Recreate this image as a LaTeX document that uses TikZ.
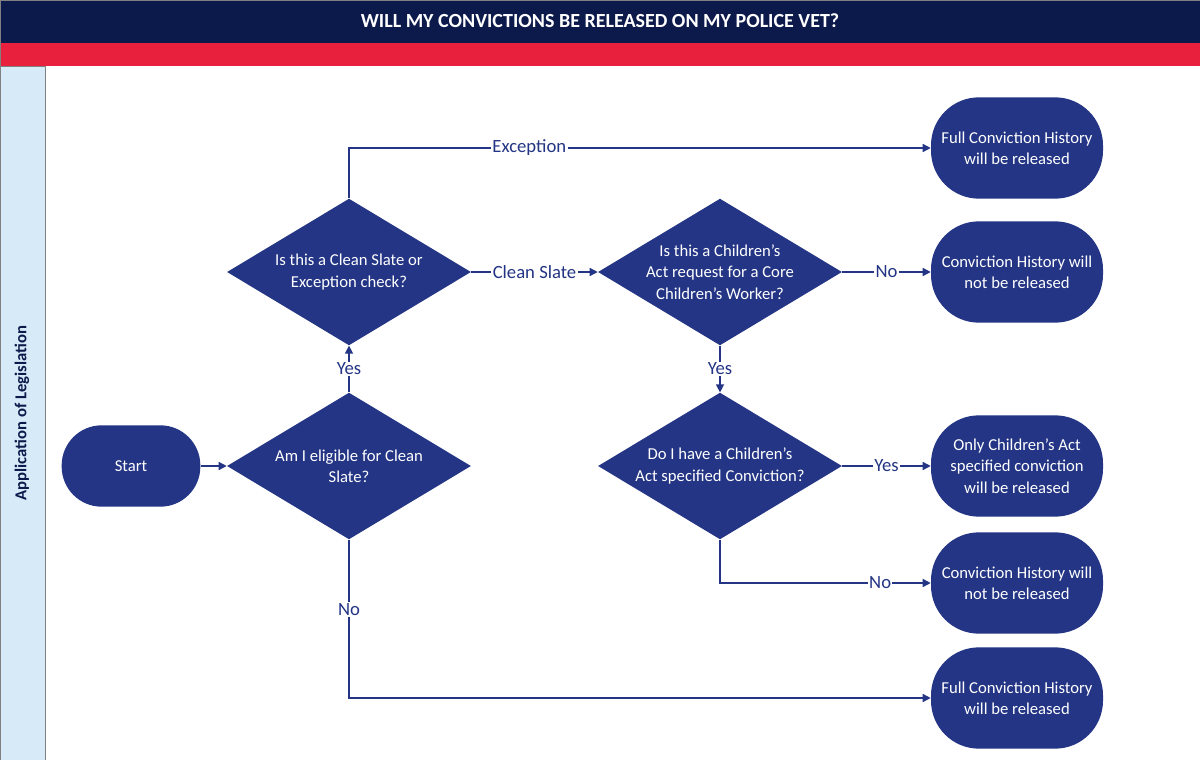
\documentclass[tikz,border=0pt]{standalone}
\usepackage{fontspec}
\setmainfont{Carlito}
\usetikzlibrary{shapes.geometric,arrows.meta,positioning}
\definecolor{navy}{HTML}{0C1A4B}
\definecolor{boxblue}{HTML}{233584}
\definecolor{barred}{HTML}{E8203E}
\definecolor{lane}{HTML}{D6EAF8}
\tikzset{
  flow/.style={draw=boxblue, line width=1pt, -{Triangle[length=6pt,width=6pt]}},
  ending/.style={rectangle, rounded corners=36pt, fill=boxblue, text=white, minimum width=129pt, minimum height=76pt, inner xsep=0pt, align=center, font=\fontsize{12.5}{16}\selectfont},
  choice/.style={diamond, fill=boxblue, minimum width=183pt, minimum height=110pt, inner sep=0pt},
  choicetext/.style={text=white, align=center, font=\fontsize{12.5}{16}\selectfont},
  tag/.style={fill=white, text=boxblue, inner sep=1pt, font=\fontsize{14}{16}\selectfont}
}
\begin{document}
\begin{tikzpicture}[x=0.75pt, y=-0.75pt]
  \useasboundingbox (0,0) rectangle (1200,760);
  % frame and bars
  \fill[navy] (0,0) rectangle (1200,43);
  \fill[barred] (0,43) rectangle (1200,66);
  \node[text=white, font=\bfseries\fontsize{15}{17}\selectfont] (title) at (600,21) {WILL MY CONVICTIONS BE RELEASED ON MY POLICE VET?};
  \draw[fill=lane, draw=gray] (0,66) rectangle (45,760);
  \draw[gray] (0,0) rectangle (1200,760);
  \node[rotate=90, text=navy, font=\bfseries\fontsize{12.5}{14}\selectfont] (lanelabel) at (22,413) {Application of Legislation};
  % nodes
  \node[ending, minimum width=104pt, minimum height=61pt, rounded corners=30pt] (start) at (131,466) {Start};
  \node[choice] (eligible) at (349,466) {};
  \node[choicetext] at (eligible) {Am I eligible for Clean\\Slate?};
  \node[choice] (check) at (349,272) {};
  \node[choicetext] at (check) {Is this a Clean Slate or\\Exception check?};
  \node[choice] (core) at (720,272) {};
  \node[choicetext] at (core) {Is this a Children’s\\Act request for a Core\\Children’s Worker?};
  \node[choice] (specified) at (720,466) {};
  \node[choicetext] at (specified) {Do I have a Children’s\\Act specified Conviction?};
  \node[ending] (fullA) at (1017,148) {Full Conviction History\\will be released};
  \node[ending] (notA) at (1017,272) {Conviction History will\\not be released};
  \node[ending] (only) at (1017,466) {Only Children’s Act\\specified conviction\\will be released};
  \node[ending] (notB) at (1017,583) {Conviction History will\\not be released};
  \node[ending] (fullB) at (1017,698) {Full Conviction History\\will be released};
  % connectors
  \draw[flow] (start) -- (eligible);
  \draw[flow] (eligible) -- node[tag] {Yes} (check);
  \draw[flow] (eligible.south) |- node[tag, pos=0.22] {No} (fullB.west);
  \draw[flow] (check.north) |- node[tag, pos=0.655] {Exception} (fullA.west);
  \draw[flow] (check) -- node[tag] {Clean Slate} (core);
  \draw[flow] (core) -- node[tag] {No} (notA);
  \draw[flow] (core) -- node[tag] {Yes} (specified);
  \draw[flow] (specified) -- node[tag] {Yes} (only);
  \draw[flow] (specified.south) |- node[tag, pos=0.88] {No} (notB.west);
\end{tikzpicture}
\end{document}
